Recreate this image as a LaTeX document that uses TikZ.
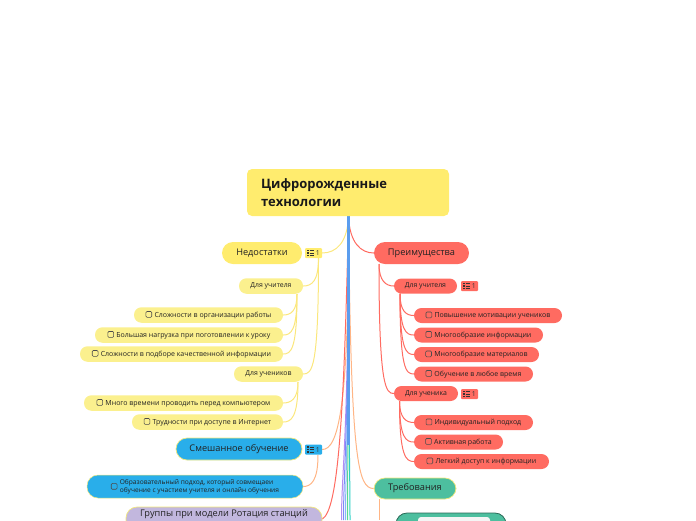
\documentclass[tikz,border=0pt]{standalone}
\usepackage{fontspec}
\setmainfont{Open Sans}
\pgfdeclarelayer{bg}
\pgfsetlayers{bg,main}
\definecolor{yroot}{HTML}{FFEC6E}
\definecolor{yleaf}{HTML}{FBF08E}
\definecolor{yline}{HTML}{FBE77C}
\definecolor{rnode}{HTML}{FF6B61}
\definecolor{rline}{HTML}{FF6B61}
\definecolor{bnode}{HTML}{29AEEA}
\definecolor{tnode}{HTML}{4DBF9F}
\definecolor{lnode}{HTML}{C2B7DE}
\definecolor{oline}{HTML}{FFB585}
\definecolor{trunkblue}{HTML}{5B9DEE}
\definecolor{ybord}{HTML}{F2E77A}
\definecolor{txt}{HTML}{222222}
\definecolor{cpurple}{HTML}{B48CF2}
\definecolor{cblue}{HTML}{7C8CF8}
\definecolor{clblue}{HTML}{86B8F8}
\definecolor{cgreen}{HTML}{5CD68E}
\definecolor{cteal}{HTML}{2BCFC4}
\newcommand\mycb{\tikz[baseline=0.2pt]\draw[line width=0.55pt,draw=black!70,rounded corners=1pt] (0pt,0pt) rectangle (5.8pt,5.8pt);\hspace{2.5pt}}
\newcommand\mycbm{\tikz[baseline=1pt]\draw[line width=0.55pt,draw=black!70,rounded corners=1pt] (0pt,0pt) rectangle (5.8pt,5.8pt);\hspace{2.5pt}}
\tikzset{
  lvlone/.style={rounded corners=11pt, minimum height=22pt, inner sep=0pt, text=txt, font=\fontsize{9.2}{10}\selectfont},
  lvltwo/.style={rounded corners=7.5pt, minimum height=15.5pt, inner sep=0pt, text=txt, font=\fontsize{6.9}{8}\selectfont},
  leaf/.style={rounded corners=7.5pt, minimum height=15.5pt, inner sep=0pt, text=txt, font=\fontsize{7}{8}\selectfont},
  badgebox/.style={minimum width=17pt, minimum height=10pt, inner sep=0pt, rounded corners=1pt},
  yconn/.style={draw=yline, line width=1pt},
  rconn/.style={draw=rline, line width=1pt},
  oconn/.style={draw=oline, line width=1pt},
  tconn/.style={line width=1pt},
}
\newcommand\mybadge[3]{%
  \node[badgebox, fill=#3] (#1) at (#2) {};
  \begin{scope}[shift={(#1.center)}]
    \foreach \yy in {-2.6,0,2.6} {
      \fill[black!80] (-6.2,\yy-0.65) rectangle (-4.9,\yy+0.65);
      \draw[black!80, line width=0.8pt] (-3.8,\yy) -- (0.7,\yy);
    }
    \node[font=\fontsize{6.8}{7}\selectfont, inner sep=0pt, text=black!80] at (4.4,0.3) {1};
  \end{scope}
}
\begin{document}
\begin{tikzpicture}[x=1pt,y=-1pt]
\useasboundingbox (0,0) rectangle (696,520);
\clip (0,0) rectangle (696,520);

% ---------- nodes ----------
\node[fill=yroot, rounded corners=5pt, minimum width=202pt, minimum height=47pt,
      inner xsep=14pt, text width=174pt, align=left, text=black!90,
      font=\bfseries\fontsize{13}{18}\selectfont] (root) at (348,192.5)
      {Цифророжденные\\технологии};
\coordinate (rootS) at (348.5,216);

% left: Недостатки
\node[lvlone, fill=yroot, minimum width=80pt] (ned) at (262,253) {Недостатки};
\node[lvltwo, fill=yleaf, minimum width=64pt] (dlul) at (271,286) {Для учителя};
\node[leaf, fill=yleaf, minimum width=149pt] (s1) at (208.5,315) {\mycb Сложности в организации работы};
\node[leaf, fill=yleaf, minimum width=188pt] (s2) at (189,335) {\mycb Большая нагрузка при поготовлении к уроку};
\node[leaf, fill=yleaf, minimum width=203pt] (s3) at (181.5,354) {\mycb Сложности в подборе качественной информации};
\node[lvltwo, fill=yleaf, minimum width=69pt] (dlun) at (268.5,374) {Для учеников};
\node[leaf, fill=yleaf, minimum width=199pt] (s4) at (183.5,403) {\mycb Много времени проводить перед компьютером};
\node[leaf, fill=yleaf, minimum width=151pt] (s5) at (207.5,422) {\mycb Трудности при доступе в Интернет};

% left: Смешанное обучение
\node[lvlone, fill=bnode, draw=ybord, line width=0.7pt, minimum width=126pt] (smesh) at (239,449) {Смешанное обучение};
\node[leaf, fill=bnode, draw=ybord, line width=0.5pt, rounded corners=11pt, minimum width=216pt, minimum height=23pt,
      font=\fontsize{6.6}{8}\selectfont] (obr) at (195,486.5)
      {\mycbm\begin{tabular}{@{}l@{}}Образовательный подход, который совмещаеи\\обучение с участием учителя и онлайн обучения\end{tabular}};

% left: Группы (pill cut by the frame, text kept inside)
\node[lvlone, fill=lnode, draw=ybord, line width=0.7pt, minimum width=196pt, minimum height=24pt] (grp) at (224,519) {};
\node[inner sep=0pt, text=txt, font=\fontsize{9.2}{10}\selectfont] (grpt) at (224,514.3) {Группы при модели Ротация станций};

% right: Преимущества
\node[lvlone, fill=rnode, minimum width=95pt] (pre) at (421.5,253) {Преимущества};
\node[lvltwo, fill=rnode, minimum width=63pt, minimum height=15pt] (dlur) at (425.5,286) {Для учителя};
\node[leaf, fill=rnode, minimum width=148pt, minimum height=15pt] (r1) at (488,315.5) {\mycb Повышение мотивации учеников};
\node[leaf, fill=rnode, minimum width=129pt, minimum height=15pt] (r2) at (478.5,335) {\mycb Многообразие информации};
\node[leaf, fill=rnode, minimum width=125pt, minimum height=15pt] (r3) at (476.5,354.5) {\mycb Многообразие материалов};
\node[leaf, fill=rnode, minimum width=119pt, minimum height=15pt] (r4) at (473.5,374) {\mycb Обучение в любое время};
\node[lvltwo, fill=rnode, minimum width=64pt, minimum height=15pt] (dlk) at (426,393.5) {Для ученика};
\node[leaf, fill=rnode, minimum width=119pt, minimum height=15pt] (r5) at (473.5,422.5) {\mycb Индивидуальный подход};
\node[leaf, fill=rnode, minimum width=89pt, minimum height=15pt] (r6) at (458.5,442) {\mycb Активная работа};
\node[leaf, fill=rnode, minimum width=135pt, minimum height=15pt] (r7) at (481.5,461.5) {\mycb Легкий доступ к информации};

% right: Требования
\node[lvlone, fill=tnode, draw=ybord, line width=0.7pt, minimum width=82pt, minimum height=21pt] (treb) at (415,488.5) {Требования};

% bottom partial node
\node[fill=tnode, draw=black!45!tnode, line width=0.8pt, rounded corners=11pt, minimum width=110pt, minimum height=26pt, inner sep=0pt] (tnext) at (451,526) {};
\node[fill=black!4!white, rounded corners=3pt, minimum width=72pt, minimum height=16pt, inner sep=0pt] (tnextin) at (454,525) {};

% badges
\mybadge{bned}{313.5,253}{yroot}
\mybadge{bsmesh}{313.5,449.5}{bnode}
\mybadge{bdlur}{469.5,286}{rnode}
\mybadge{bdlk}{469.5,394}{rnode}

% helper coordinates
\coordinate (nedT) at (318.5,258);
\coordinate (dlulT) at (297,294);
\coordinate (dlunT) at (298,382);
\coordinate (smT) at (318,455);
\coordinate (preT) at (379,264);
\coordinate (dlurT) at (400,293.5);
\coordinate (dlkT) at (399.5,401);
\coordinate (trebT) at (379,499);
\coordinate (trebE) at (379,520);
\coordinate (e1) at (341.5,520);
\coordinate (e2) at (343.5,520);
\coordinate (e3) at (345.5,520);
\coordinate (e4) at (347.5,520);
\coordinate (e5) at (350,520);
\coordinate (trunkM) at (348.5,445);

% ---------- connectors (behind) ----------
\begin{pgfonlayer}{bg}
  % Недостатки
  \draw[yconn] (rootS) .. controls (347.5,243) and (336,253) .. (bned.east);
  \draw[yconn] (nedT) .. controls (318.5,281) and (312,286) .. (dlul.east);
  \draw[yconn] (nedT) .. controls (318.5,369) and (312,374) .. (dlun.east);
  \draw[yconn] (dlulT) .. controls (297,311) and (291,315) .. (s1.east);
  \draw[yconn] (dlulT) .. controls (297,331) and (291,335) .. (s2.east);
  \draw[yconn] (dlulT) .. controls (297,350) and (291,354) .. (s3.east);
  \draw[yconn] (dlunT) .. controls (298,399) and (291,403) .. (s4.east);
  \draw[yconn] (dlunT) .. controls (298,418) and (291,422) .. (s5.east);

  % Преимущества
  \draw[rconn] (rootS) .. controls (349.5,243) and (361,253) .. (pre.west);
  \draw[rconn] (preT) .. controls (379,281) and (386,286) .. (dlur.west);
  \draw[rconn] (preT) .. controls (379,388) and (386,393.5) .. (dlk.west);
  \draw[rconn] (dlurT) .. controls (400,311) and (406,315.5) .. (r1.west);
  \draw[rconn] (dlurT) .. controls (400,331) and (406,335) .. (r2.west);
  \draw[rconn] (dlurT) .. controls (400,350) and (406,354.5) .. (r3.west);
  \draw[rconn] (dlurT) .. controls (400,370) and (406,374) .. (r4.west);
  \draw[rconn] (dlkT) .. controls (399.5,418) and (406,422.5) .. (r5.west);
  \draw[rconn] (dlkT) .. controls (399.5,438) and (406,442) .. (r6.west);
  \draw[rconn] (dlkT) .. controls (399.5,457) and (406,461.5) .. (r7.west);

  % Смешанное обучение
  \draw[oconn] (rootS) .. controls (349,410) and (338,449.5) .. (bsmesh.east);
  \draw[oconn] (smT) .. controls (318,481) and (311,486.5) .. (obr.east);

  % Группы
  \draw[rconn] (rootS) .. controls (344,420) and (338,510) .. (grp.east);

  % Требования
  \draw[oconn] (rootS) .. controls (351,462) and (358,488.5) .. (treb.west);
  \draw[oconn] (trebT) -- (trebE);

  % trunk bundle to nodes below the frame
  \draw[tconn, draw=cpurple] (rootS) .. controls (348.5,440) and (341.5,470) .. (e1);
  \draw[tconn, draw=cblue]   (rootS) .. controls (348.5,440) and (343.5,470) .. (e2);
  \draw[tconn, draw=clblue]  (rootS) .. controls (348.5,440) and (345.5,470) .. (e3);
  \draw[tconn, draw=cgreen]  (rootS) .. controls (348.5,440) and (347.5,470) .. (e4);
  \draw[tconn, draw=cteal]   (rootS) .. controls (348.5,440) and (350,470) .. (e5);
  \draw[line width=2.2pt, draw=trunkblue] (rootS) -- (trunkM);
\end{pgfonlayer}

\end{tikzpicture}
\end{document}
